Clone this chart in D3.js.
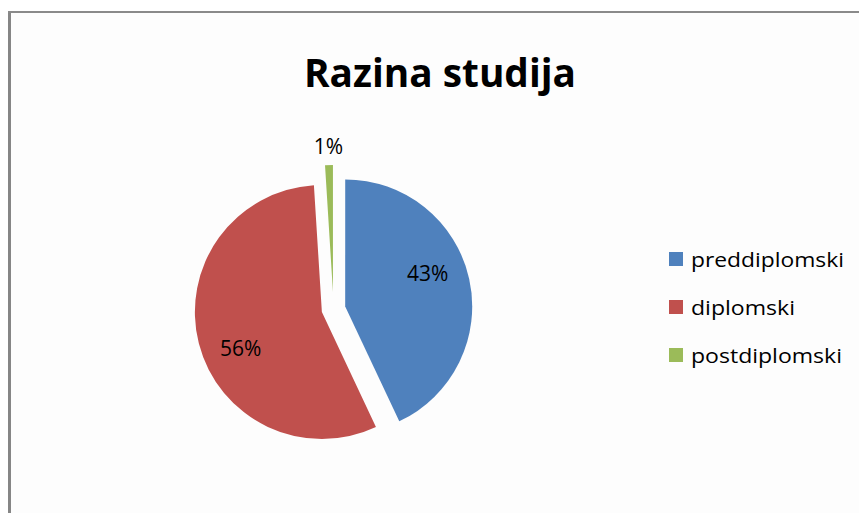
<!DOCTYPE html>
<html>
<head>
<meta charset="utf-8">
<script src="https://cdn.jsdelivr.net/npm/d3@7"></script>
<style>
html,body{margin:0;padding:0;background:#ffffff;}
svg{display:block;}
</style>
</head>
<body>
<svg id="chart" width="859" height="513"></svg>
<script>
// ---- data ----
const title = "Razina studija";
const categories = ["preddiplomski", "diplomski", "postdiplomski"];
const values = [43, 56, 1];
const labels = ["43%", "56%", "1%"];
const colors = ["#4F81BD", "#C0504D", "#9BBB59"];

// ---- layout constants ----
const W = 859, H = 513;
const cx = 333.5, cy = 309, R = 127;
const explode = [12, 12, 17];
const labelShift = -9.5 * Math.PI / 180; // best-fit rotation of inside labels
const svg = d3.select("#chart");
const font = "'Open Sans', 'Noto Sans', sans-serif";

// chart area & border
svg.append("rect").attr("x", 9).attr("y", 12).attr("width", W - 9).attr("height", H - 12).attr("fill", "#fdfdfd");
svg.append("line").attr("x1", 9.5).attr("x2", 9.5).attr("y1", 11).attr("y2", H).attr("stroke", "#868686").attr("stroke-width", 3);
svg.append("line").attr("x1", 8).attr("x2", W).attr("y1", 12).attr("y2", 12).attr("stroke", "#8a8a8a").attr("stroke-width", 2);

// title
svg.append("text").attr("x", 440).attr("y", 87).attr("text-anchor", "middle")
  .attr("font-family", font).attr("font-weight", "bold").attr("font-size", 40)
  .attr("textLength", 272).attr("lengthAdjust", "spacingAndGlyphs")
  .attr("fill", "#000").text(title);

// pie
const pie = d3.pie().sort(null).value(d => d.v);
const data = categories.map((c, i) => ({c, v: values[i], label: labels[i], color: colors[i], ex: explode[i]}));
const arcs = pie(data);
const arc = d3.arc().innerRadius(0).outerRadius(R);
const labelArcOut = d3.arc().innerRadius(R + 19).outerRadius(R + 19);
const labelArcIn = d3.arc().innerRadius(R * 0.7).outerRadius(R * 0.7);

const g = svg.append("g").attr("transform", `translate(${cx},${cy})`);
arcs.forEach(a => {
  const mid = (a.startAngle + a.endAngle) / 2;
  const dx = Math.sin(mid) * a.data.ex, dy = -Math.cos(mid) * a.data.ex;
  const sg = g.append("g").attr("transform", `translate(${dx},${dy})`);
  sg.append("path").attr("d", arc(a)).attr("fill", a.data.color);
  const outside = a.data.v < 5;
  let p;
  if (outside) {
    p = labelArcOut.centroid(a);
  } else {
    p = labelArcIn.centroid({startAngle: a.startAngle + labelShift, endAngle: a.endAngle + labelShift});
  }
  sg.append("text").attr("x", p[0]).attr("y", p[1]).attr("dy", "0.36em")
    .attr("text-anchor", "middle").attr("font-family", font).attr("font-size", 21)
    .attr("fill", "#000").text(a.data.label);
});

// legend
const legend = svg.append("g");
const ly = d3.scalePoint().domain(categories).range([252, 348]);
const lw = {"preddiplomski": 153, "diplomski": 104, "postdiplomski": 151};
categories.forEach((c, i) => {
  legend.append("rect").attr("x", 669).attr("y", ly(c)).attr("width", 14).attr("height", 14).attr("fill", colors[i]);
  legend.append("text").attr("x", 691).attr("y", ly(c) + 14.5)
    .attr("font-family", font).attr("font-size", 20).attr("fill", "#000")
    .attr("textLength", lw[c]).attr("lengthAdjust", "spacingAndGlyphs")
    .text(c);
});
</script>
</body>
</html>
